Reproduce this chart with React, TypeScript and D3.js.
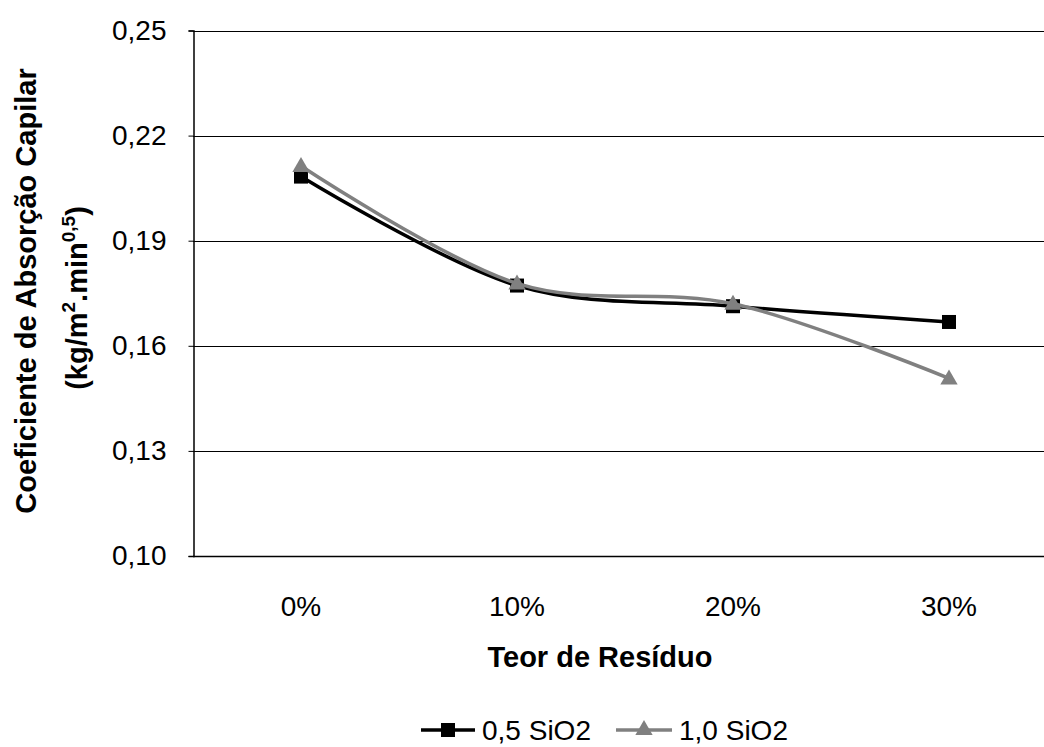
import * as d3 from "d3";
import { useEffect, useRef } from "react";

const WIDTH = 1044;
const HEIGHT = 747;
const MARGIN = { top: 30.5, left: 193, right: -13, bottom: 191 };

const categories = ["0%", "10%", "20%", "30%"];
const series05 = [0.2083, 0.1772, 0.1713, 0.1668];
const series10 = [0.2113, 0.1778, 0.172, 0.1507];
const yTicks = [0.1, 0.13, 0.16, 0.19, 0.22, 0.25];

const FONT = "'Liberation Sans', Arial, sans-serif";
const GRAY = "#808080";
const FS = "28px";
const FS_BOLD = "29px";

export default function App() {
  const ref = useRef<SVGSVGElement>(null);

  useEffect(() => {
    document.body.style.margin = "0";
    const svg = d3.select(ref.current);
    svg.selectAll("*").remove();

    const x = d3
      .scalePoint<string>()
      .domain(categories)
      .range([MARGIN.left, WIDTH - MARGIN.right])
      .padding(0.5);

    const y = d3
      .scaleLinear()
      .domain([0.1, 0.25])
      .range([HEIGHT - MARGIN.bottom, MARGIN.top]);

    // gridlines
    svg
      .append("g")
      .selectAll("line")
      .data(yTicks.slice(1))
      .enter()
      .append("line")
      .attr("x1", MARGIN.left)
      .attr("x2", WIDTH - MARGIN.right)
      .attr("y1", (d) => Math.round(y(d)) + 0.5)
      .attr("y2", (d) => Math.round(y(d)) + 0.5)
      .attr("stroke", "#000")
      .attr("stroke-width", 1.2);

    // y axis
    const yAxis = d3
      .axisLeft(y)
      .tickValues(yTicks)
      .tickSize(5)
      .tickFormat((d) => d3.format(".2f")(d as number).replace(".", ","));

    const gy = svg
      .append("g")
      .attr("transform", `translate(${MARGIN.left + 0.5},0)`)
      .call(yAxis);
    gy.select(".domain").attr("stroke", "#000").attr("stroke-width", 1.5);
    gy.selectAll(".tick line").attr("stroke", "#000");
    gy.selectAll(".tick text")
      .attr("x", -27)
      .attr("fill", "#000")
      .style("font-family", FONT)
      .style("font-size", FS);

    // x axis line
    svg
      .append("line")
      .attr("x1", MARGIN.left)
      .attr("x2", WIDTH - MARGIN.right)
      .attr("y1", Math.round(y(0.1)) + 0.5)
      .attr("y2", Math.round(y(0.1)) + 0.5)
      .attr("stroke", "#000")
      .attr("stroke-width", 1.5);

    svg
      .append("g")
      .selectAll("text")
      .data(categories)
      .enter()
      .append("text")
      .attr("x", (d) => x(d)!)
      .attr("y", 616)
      .attr("text-anchor", "middle")
      .style("font-family", FONT)
      .style("font-size", FS)
      .text((d) => d);

    const line = d3
      .line<number>()
      .x((_, i) => x(categories[i])!)
      .y((d) => y(d))
      .curve(d3.curveCardinal.tension(0));

    const tri = d3.symbol().type(d3.symbolTriangle).size(130);

    // 0,5 SiO2
    svg
      .append("path")
      .attr("d", line(series05)!)
      .attr("fill", "none")
      .attr("stroke", "#000")
      .attr("stroke-width", 3.5);
    svg
      .append("g")
      .selectAll("rect")
      .data(series05)
      .enter()
      .append("rect")
      .attr("x", (_, i) => x(categories[i])! - 7)
      .attr("y", (d) => y(d) - 7)
      .attr("width", 14)
      .attr("height", 14)
      .attr("fill", "#000");

    // 1,0 SiO2
    svg
      .append("path")
      .attr("d", line(series10)!)
      .attr("fill", "none")
      .attr("stroke", GRAY)
      .attr("stroke-width", 3.5);
    svg
      .append("g")
      .selectAll("path")
      .data(series10)
      .enter()
      .append("path")
      .attr("d", tri)
      .attr("transform", (d, i) => `translate(${x(categories[i])},${y(d) + 1})`)
      .attr("fill", GRAY);

    // axis titles
    svg
      .append("text")
      .attr("x", 600)
      .attr("y", 667)
      .attr("text-anchor", "middle")
      .style("font-family", FONT)
      .style("font-size", FS_BOLD)
      .style("font-weight", "bold")
      .text("Teor de Resíduo");

    svg
      .append("text")
      .attr("transform", "translate(36,291) rotate(-90)")
      .attr("text-anchor", "middle")
      .style("font-family", FONT)
      .style("font-size", FS_BOLD)
      .style("font-weight", "bold")
      .text("Coeficiente de Absorção Capilar");
    const l2 = svg
      .append("text")
      .attr("transform", "translate(87,298) rotate(-90)")
      .attr("text-anchor", "middle")
      .style("font-family", FONT)
      .style("font-size", FS_BOLD)
      .style("font-weight", "bold");
    l2.append("tspan").text("(kg/m");
    l2.append("tspan").attr("dy", -12).style("font-size", "19px").text("2");
    l2.append("tspan").attr("dy", 12).text(".min");
    l2.append("tspan").attr("dy", -12).style("font-size", "19px").text("0,5");
    l2.append("tspan").attr("dy", 12).text(")");

    // legend
    const lg = svg.append("g");
    const ly = 730;
    lg.append("line")
      .attr("x1", 421)
      .attr("x2", 475)
      .attr("y1", ly)
      .attr("y2", ly)
      .attr("stroke", "#000")
      .attr("stroke-width", 3.5);
    lg.append("rect")
      .attr("x", 448 - 7)
      .attr("y", ly - 7)
      .attr("width", 14)
      .attr("height", 14)
      .attr("fill", "#000");
    lg.append("text")
      .attr("x", 482)
      .attr("y", 740)
      .style("font-family", FONT)
      .style("font-size", FS)
      .text("0,5 SiO2");
    lg.append("line")
      .attr("x1", 616)
      .attr("x2", 672)
      .attr("y1", ly)
      .attr("y2", ly)
      .attr("stroke", GRAY)
      .attr("stroke-width", 3.5);
    lg.append("path")
      .attr("d", tri)
      .attr("transform", `translate(644,${ly})`)
      .attr("fill", GRAY);
    lg.append("text")
      .attr("x", 679)
      .attr("y", 740)
      .style("font-family", FONT)
      .style("font-size", FS)
      .text("1,0 SiO2");
  }, []);

  return (
    <svg
      ref={ref}
      width={WIDTH}
      height={HEIGHT}
      style={{ display: "block", background: "#fff" }}
    />
  );
}
